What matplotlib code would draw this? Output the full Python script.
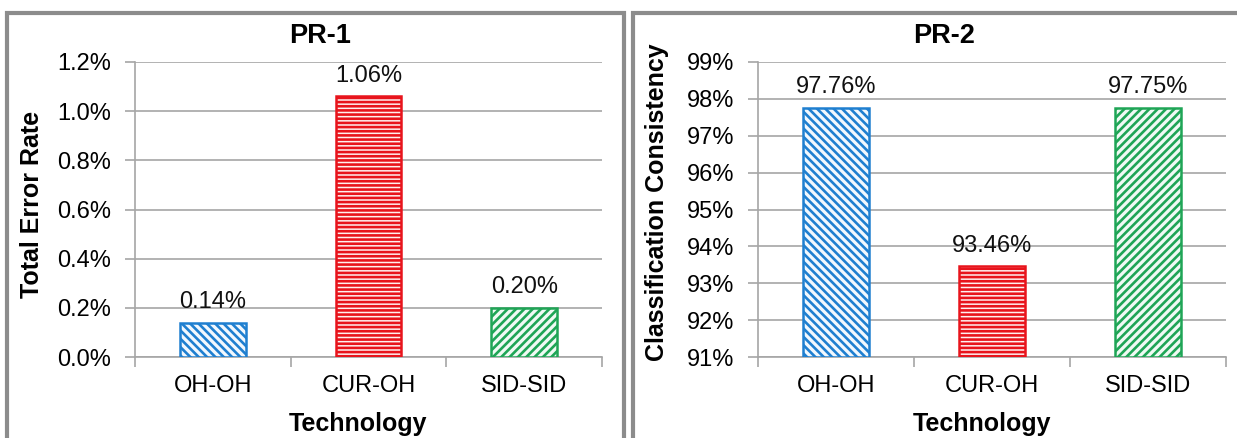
import matplotlib
matplotlib.use("Agg")
import matplotlib.pyplot as plt
from matplotlib.patches import Rectangle
from matplotlib.ticker import FuncFormatter, FixedLocator

plt.rcParams['font.family'] = ['Liberation Sans', 'DejaVu Sans']
plt.rcParams['hatch.linewidth'] = 1.9

# data
technologies = ["OH-OH", "CUR-OH", "SID-SID"]
error_rate = [0.14, 1.06, 0.20]          # PR-1, percent
consistency = [97.76, 93.46, 97.75]      # PR-2, percent

bar_colors = ["#1f7fd0", "#e8141c", "#1fa556"]
face_colors = ["#f2f8fe", "#fff0f0", "#f0faf4"]
hatches = ["\\\\\\\\", "----", "////"]

W, H = 1237, 438
fig = plt.figure(figsize=(W / 100, H / 100), dpi=100)

def fx(px):
    return px / W

def fy(py):
    return 1 - py / H

# panel borders
for x0, x1 in [(7, 624), (633, 1245)]:
    fig.add_artist(Rectangle((fx(x0), fy(450)), fx(x1 - x0), (450 - 13) / H,
                             transform=fig.transFigure, fill=False,
                             edgecolor="#8c8c8c", linewidth=3, clip_on=False))

grid_col = "#a6a6a6"
fs = 17


def draw(ax, vals, ymin, ymax, step, fmt):
    for i, v in enumerate(vals):
        ax.bar(i, v - ymin, bottom=ymin, width=0.42, facecolor=face_colors[i],
               edgecolor=bar_colors[i], hatch=hatches[i], linewidth=1.8, zorder=3)
        ax.annotate("{:.2f}%".format(v), (i, v), xytext=(0, 7),
                    textcoords="offset points", ha="center", va="bottom",
                    fontsize=fs, color="#111111", zorder=4)
    ax.set_xlim(-0.5, len(vals) - 0.5)
    ax.set_ylim(ymin, ymax)
    n = int(round((ymax - ymin) / step))
    ax.set_yticks([ymin + k * step for k in range(n + 1)])
    ax.yaxis.set_major_formatter(FuncFormatter(lambda v, p: fmt.format(v)))
    ax.yaxis.grid(True, color=grid_col, linewidth=1.2, zorder=0)
    ax.set_xticks(range(len(vals)))
    ax.set_xticklabels(technologies)
    ax.xaxis.set_minor_locator(FixedLocator([-0.5, 0.5, 1.5, 2.5]))
    ax.tick_params(axis="x", which="major", length=0, pad=13, labelsize=fs)
    ax.tick_params(axis="x", which="minor", length=7, width=1.2, color=grid_col)
    ax.tick_params(axis="y", length=7, width=1.2, color=grid_col, labelsize=fs, pad=10)
    for s in ["top", "right"]:
        ax.spines[s].set_visible(False)
    for s in ["left", "bottom"]:
        ax.spines[s].set_color(grid_col)
        ax.spines[s].set_linewidth(1.2)


ax1 = fig.add_axes([fx(135), fy(357), fx(602 - 135), (357 - 62) / H])
draw(ax1, error_rate, 0.0, 1.2, 0.2, "{:.1f}%")

ax2 = fig.add_axes([fx(758), fy(357), fx(1226 - 758), (357 - 62) / H])
draw(ax2, consistency, 91, 99, 1, "{:.0f}%")

# titles and axis labels
fig.text(fx(320), fy(36), "PR-1", ha="center", va="center", fontsize=19.5, fontweight="bold")
fig.text(fx(944), fy(36), "PR-2", ha="center", va="center", fontsize=19.5, fontweight="bold")
fig.text(fx(358), fy(424), "Technology", ha="center", va="center", fontsize=18, fontweight="bold")
fig.text(fx(982), fy(424), "Technology", ha="center", va="center", fontsize=18, fontweight="bold")
fig.text(fx(32), fy(204), "Total Error Rate", ha="center", va="center", rotation=90,
         fontsize=18, fontweight="bold")
fig.text(fx(657), fy(202), "Classification Consistency", ha="center", va="center",
         rotation=90, fontsize=18, fontweight="bold")

fig.savefig("out.png", dpi=100)
